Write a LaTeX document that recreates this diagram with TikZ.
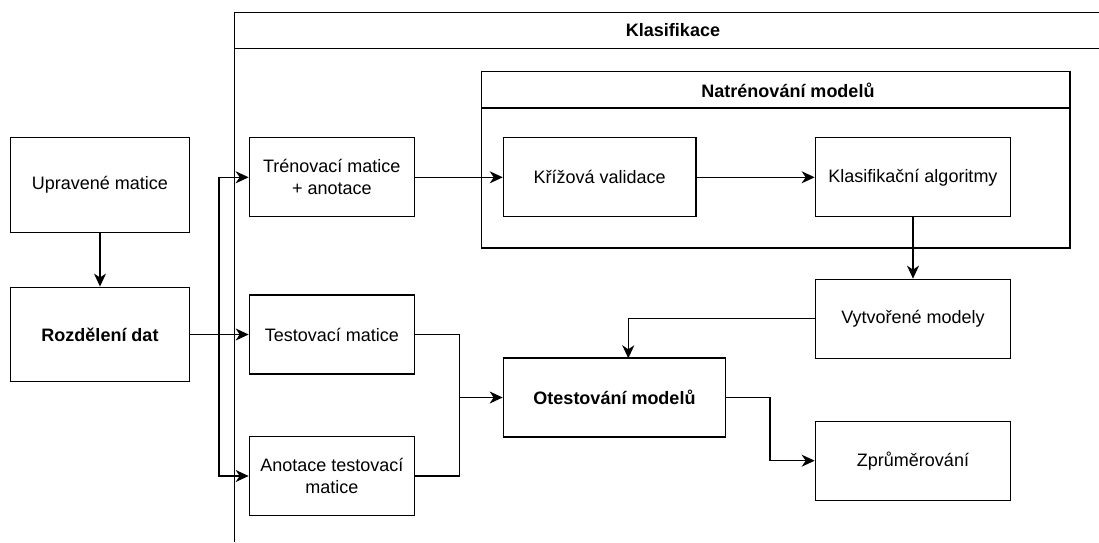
\documentclass[tikz,border=0pt]{standalone}
\usepackage{fontspec}
\setmainfont{Liberation Sans}
\usepackage{tikz}
\usetikzlibrary{shapes.geometric, arrows, arrows.meta, positioning}

\begin{document}
\begin{tikzpicture}[x=0.5pt, y=-0.5pt, line width=0.65pt,
        >={Stealth[length=6.5pt,width=6pt,inset=2pt]},
        every node/.style={font=\fontsize{9}{11}\selectfont},
        box/.style={draw, rectangle, line width=0.65pt, inner sep=2pt, align=center, minimum height=39.5pt},
        title/.style={font=\fontsize{9}{11}\selectfont\bfseries}]
        \useasboundingbox (0,0) rectangle (1099,542);

        \draw (234.7,542) |- (1099,12.3);
        \draw (234.7,48.3) -- (1099,48.3);
        \node[title] (klasifikace) at (673,30.3) {Klasifikace};

        \draw (481.3,71.7) rectangle (1070,248);
        \draw (481.3,108) -- (1070,108);
        \node[title] (natrenovani) at (788,90) {Natrénování modelů};

        \node[box, minimum width=89.7pt, minimum height=47.3pt] (upravene) at (100,185) {Upravené matice};
        \node[box, minimum width=89.7pt, minimum height=47.3pt, font=\fontsize{9}{11}\selectfont\bfseries] (rozdeleni) at (100,334.5) {Rozdělení dat};
        \node[box, minimum width=82.5pt] (trenovaci) at (331.8,177.3) {Trénovací matice\\+ anotace};
        \node[box, minimum width=82.5pt] (testovaci) at (331.8,334.5) {Testovací matice};
        \node[box, minimum width=82.5pt] (anotace) at (331.8,476) {Anotace testovací\\matice};
        \node[box, minimum width=96.3pt] (krizova) at (599.7,177.3) {Křížová validace};
        \node[box, minimum width=97.7pt] (algoritmy) at (913,177.3) {Klasifikační algoritmy};
        \node[box, minimum width=97.7pt] (vytvorene) at (913,318.8) {Vytvořené modely};
        \node[box, minimum width=111.2pt, font=\fontsize{9}{11}\selectfont\bfseries] (otestovani) at (614.5,397.5) {Otestování modelů};
        \node[box, minimum width=97.7pt] (zprumerovani) at (913,460.7) {Zprůměrování};

        \coordinate (split) at (219,334.5);
        \coordinate (merge) at (459.3,397.5);
        \coordinate (modelsin) at (628.3,358.3);
        \coordinate (avg) at (770,460.7);

        \draw[->] (upravene) -- (rozdeleni);
        \draw[->] (rozdeleni) -- (testovaci);
        \draw[->] (split) |- (trenovaci);
        \draw[->] (split) |- (anotace);
        \draw[->] (trenovaci) -- (krizova);
        \draw[->] (krizova) -- (algoritmy);
        \draw[->] (algoritmy) -- (vytvorene);
        \draw[->] (vytvorene) -| (modelsin);
        \draw (testovaci) -| (merge);
        \draw (anotace) -| (merge);
        \draw[->] (merge) -- (otestovani);
        \draw[->] (otestovani) -| (avg) -- (zprumerovani);
    \end{tikzpicture}
\end{document}
